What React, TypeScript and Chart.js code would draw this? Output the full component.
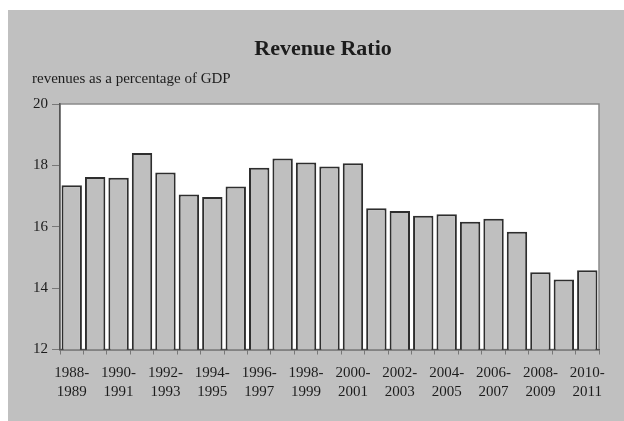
import React, { useEffect, useRef } from "react";
import { Chart, registerables } from "chart.js";

Chart.register(...registerables);

const categories = [
  "1988-1989", "1989-1990", "1990-1991", "1991-1992", "1992-1993", "1993-1994",
  "1994-1995", "1995-1996", "1996-1997", "1997-1998", "1998-1999", "1999-2000",
  "2000-2001", "2001-2002", "2002-2003", "2003-2004", "2004-2005", "2005-2006",
  "2006-2007", "2007-2008", "2008-2009", "2009-2010", "2010-2011",
];

const revenueRatio = [
  17.35, 17.62, 17.6, 18.4, 17.77, 17.05, 16.97, 17.31, 17.92, 18.22, 18.09, 17.96,
  18.07, 16.6, 16.51, 16.36, 16.41, 16.16, 16.26, 15.84, 14.52, 14.28, 14.58,
];

const yTicks = [12, 14, 16, 18, 20];

const titleText = "Revenue Ratio";
const subtitleText = "revenues as a percentage of GDP";

const FONT = '"Liberation Serif", "Times New Roman", serif';
const TEXT = "#1c1c1c";

const decorPlugin = {
  id: "decor",
  beforeDraw(chart: any) {
    const { ctx, chartArea } = chart;
    const { left, top, right, bottom } = chartArea;
    ctx.save();
    ctx.fillStyle = "#ffffff";
    ctx.fillRect(left, top, right - left, bottom - top);
    ctx.strokeStyle = "#8a8a8a";
    ctx.lineWidth = 1.5;
    ctx.strokeRect(left, top, right - left, bottom - top);
    ctx.restore();
  },
  afterDraw(chart: any) {
    const { ctx } = chart;
    ctx.save();
    ctx.fillStyle = TEXT;
    ctx.textBaseline = "alphabetic";
    ctx.font = `bold 22px ${FONT}`;
    ctx.textAlign = "center";
    ctx.fillText(titleText, 315, 45);
    ctx.font = `15px ${FONT}`;
    ctx.textAlign = "left";
    ctx.fillText(subtitleText, 24, 73);
    ctx.restore();
  },
};

export default function App() {
  const canvasRef = useRef<HTMLCanvasElement | null>(null);

  useEffect(() => {
    if (!canvasRef.current) return;
    const chart = new Chart(canvasRef.current, {
      type: "bar",
      data: {
        labels: categories,
        datasets: [
          {
            data: revenueRatio,
            backgroundColor: "#bfbfbf",
            borderColor: "#2e2e2e",
            borderWidth: 2,
            borderSkipped: false,
            categoryPercentage: 1,
            barPercentage: 0.87,
          },
        ],
      },
      options: {
        responsive: false,
        animation: false,
        layout: { padding: { top: 94, left: 21, right: 25, bottom: 11 } },
        plugins: {
          legend: { display: false },
          title: { display: false },
          tooltip: { enabled: false },
        },
        scales: {
          x: {
            grid: {
              display: true,
              drawOnChartArea: false,
              drawTicks: true,
              tickLength: 5,
              color: "#777777",
              offset: true,
            },
            border: { display: true, color: "#555555", width: 1.5 },
            ticks: {
              autoSkip: false,
              maxRotation: 0,
              minRotation: 0,
              padding: 9,
              color: TEXT,
              font: { family: FONT, size: 15, lineHeight: 1.25 },
              callback: (_v: any, i: number) => {
                if (i % 2 !== 0) return "";
                const parts = categories[i].split("-");
                return [parts[0] + "-", parts[1]];
              },
            },
          },
          y: {
            min: 12,
            max: 20,
            afterBuildTicks: (axis: any) => {
              axis.ticks = yTicks.map((v) => ({ value: v }));
            },
            grid: {
              display: true,
              drawOnChartArea: false,
              drawTicks: true,
              tickLength: 8,
              color: "#777777",
            },
            border: { display: true, color: "#555555", width: 1.5 },
            ticks: {
              padding: 4,
              color: TEXT,
              font: { family: FONT, size: 15 },
            },
          },
        },
      },
      plugins: [decorPlugin],
    });
    return () => chart.destroy();
  }, []);

  return (
    <div
      style={{
        position: "absolute",
        left: 8,
        top: 10,
        width: 616,
        height: 411,
        background: "#c0c0c0",
      }}
    >
      <canvas ref={canvasRef} width={616} height={411} style={{ display: "block" }} />
    </div>
  );
}
